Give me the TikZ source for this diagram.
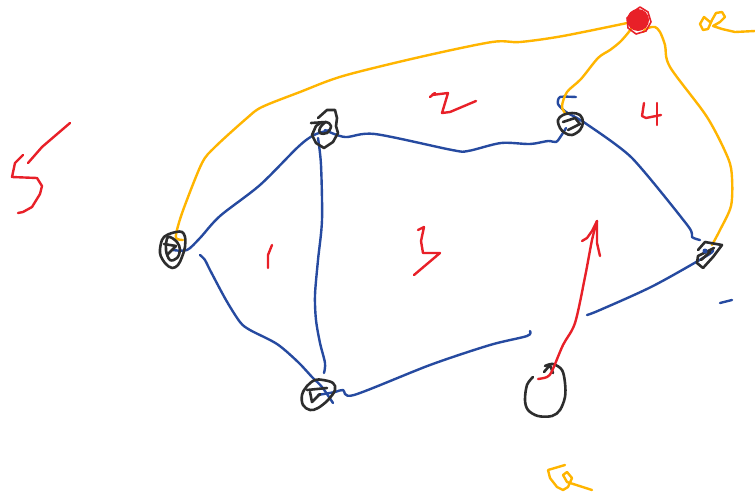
\documentclass[tikz,border=0pt]{standalone}
\definecolor{pb}{RGB}{38,74,160}
\definecolor{po}{RGB}{255,181,0}
\definecolor{pr}{RGB}{232,32,40}
\definecolor{pk}{RGB}{45,45,45}
\tikzset{
  pen/.style={line width=2.4pt, line cap=round, line join=round},
  bl/.style={pen, draw=pb},
  og/.style={pen, draw=po},
  rd/.style={pen, draw=pr},
  bk/.style={pen, draw=pk, line width=2.6pt},
  spot/.style={inner sep=0pt, minimum size=2pt},
}
\begin{document}
\begin{tikzpicture}[x=1pt,y=-1pt]
\useasboundingbox (0,0) rectangle (755,496);
\fill[white] (0,0) rectangle (755,496);
% named node positions
\node[spot] (A) at (173,250) {};
\node[spot] (B) at (325,130) {};
\node[spot] (C) at (570,124) {};
\node[spot] (D) at (708,255) {};
\node[spot] (E) at (318,395) {};
\node[spot] (F) at (545,390) {};
\node[spot] (G) at (638,20) {};
\coordinate (Ftop) at (538,379);
\coordinate (Tip) at (597,221);

% ---------- blue edges ----------
\draw[bl] plot[smooth,tension=0.5] coordinates {(A) (187,250) (200,238) (220,216) (260,185) (298,147) (314,135) (330,130)};
\draw[bl] plot[smooth,tension=0.5] coordinates {(B) (345,137) (375,134) (452,150) (468,151) (501,143) (530,144) (548,141) (556,142) (561,136) (566,128)};
\draw[bl] plot[smooth,tension=0.4] coordinates {(576,97) (560,97) (558,104) (566,112) (585,123) (632,158) (688,226) (692,237) (700,240)};
\draw[bl] plot[smooth,tension=0.5] coordinates {(318,138) (321,165) (322,220) (318,260) (315,295) (316,320) (320,343) (325,363) (324,373)};
\draw[bl] plot[smooth,tension=0.5] coordinates {(200,255) (205,260) (210,270) (226,300) (240,322) (250,330) (277,344) (298,362) (312,377) (322,387) (333,403)};
\draw[bl] plot[smooth,tension=0.5] coordinates {(E) (335,392) (343,390) (354,395) (430,365) (490,345) (527,336) (530,331)};
\draw[bl] plot[smooth,tension=0.5] coordinates {(712,250) (D) (653,286) (600,310) (587,315)};
\draw[bl] (720,303) -- (732,300);

% ---------- orange edges ----------
\draw[og] plot[smooth,tension=0.5] coordinates {(183,240) (176,238) (178,226) (185,205) (202,163) (215,147) (247,118) (262,107) (300,92) (343,76) (420,57) (492,42) (520,42) (563,36) (632,22)};
\draw[og] plot[smooth,tension=0.5] coordinates {(565,113) (562,106) (567,92) (581,79) (598,58) (610,50) (620,42) (628,33) (634,25)};
\draw[og] plot[smooth,tension=0.5] coordinates {(643,32) (648,28) (655,27) (660,32) (665,45) (670,67) (707,117) (728,158) (732,178) (731,206) (720,230) (712,245)};

% ---------- nodes (scribbles) ----------
% A
\draw[bk] plot[smooth cycle,tension=0.6] coordinates {(167,235) (162,240) (160,253) (165,263) (172,268) (178,265) (182,257) (185,247) (185,237) (182,232) (176,232)};
\draw[bk] plot[smooth cycle,tension=0.6] coordinates {(168,237) (166,250) (170,260) (177,258) (180,250) (177,242)};
\draw[bk] (164,244) -- (176,246) -- (167,255);
% B
\draw[bk] (318,118) -- (327,110) -- (335,110) -- (337,118) -- (336,126) -- (338,133) -- (333,142) -- (324,148) -- (316,143) -- (312,135) -- (316,126) -- (322,122);
\draw[bk] (311,123) -- (326,122);
\draw[bk] plot[smooth cycle,tension=0.6] coordinates {(320,128) (326,122) (331,126) (327,133) (320,133)};
% C
\draw[bk] plot[smooth cycle,tension=0.6] coordinates {(558,120) (563,115) (572,113) (580,115) (583,122) (580,130) (572,135) (565,133) (560,128)};
\draw[bk] (563,122) -- (575,118) -- (580,124) -- (568,130);
% D
\draw[bk] (698,250) -- (705,242) -- (722,245) -- (713,257) -- (703,268) -- (697,263) -- (698,256) -- (714,248);
\draw[bk] (701,260) -- (710,252);
\fill[pb] (705,251) circle (2.5);
% E
\draw[bk] plot[smooth cycle,tension=0.6] coordinates {(307,386) (315,380) (323,380) (333,383) (335,390) (328,400) (318,408) (310,410) (303,405) (302,395)};
\draw[bk] (307,390) -- (327,388);
\draw[bk] (310,392) -- (312,402) -- (320,394);
% F
\draw[bk] plot[smooth,tension=0.55] coordinates {(545,366) (553,364) (562,370) (565,383) (565,397) (560,410) (552,416) (538,416) (528,410) (525,400) (527,385) (533,377)};
\draw[bk] (544,372) -- (550,365) -- (553,373);
% G (red blob)
\fill[pr] (G) circle (11);
\draw[rd, line width=1.6pt] (630,14) -- (640,7) -- (648,12) -- (651,22) -- (646,31) -- (636,34) -- (628,28) -- (627,18) -- (635,11) -- (645,15) -- (646,26);

% ---------- red arrow ----------
\draw[rd] plot[smooth,tension=0.5] coordinates {(Ftop) (547,377) (552,371) (563,345) (575,323) (585,277) (592,240) (Tip)};
\draw[rd] (582,241) -- (587,238) -- (592,231) -- (Tip) -- (597,243) -- (600,256);

% ---------- handwritten marks ----------
% 5
\draw[rd] (70,123) -- (42,147) -- (28,163);
\draw[rd] (23,155) -- (15,163) -- (12,177) -- (37,178) -- (42,186) -- (40,194) -- (32,207) -- (23,212) -- (18,213);
% 2
\draw[rd] (430,97) -- (435,93) -- (432,95) -- (448,93) -- (442,113) -- (450,112) -- (476,101);
% 3
\draw[rd] (418,230) -- (424,227) -- (421,241) -- (423,253) -- (440,253) -- (414,275);
% 1
\draw[rd] (272,245) -- (268,255) -- (268,268);
% 4
\draw[rd] (644,103) -- (642,116) -- (646,118) -- (661,115);
\draw[rd] (657,103) -- (657,125);
% R (orange)
\draw[og] (710,22) -- (704,17) -- (700,24) -- (703,30) -- (708,29) -- (712,20) -- (716,13) -- (722,12) -- (725,17) -- (720,22) -- (713,26) -- (722,29) -- (735,32) -- (755,31);
% Q-like (orange)
\draw[og] (565,465) -- (548,470) -- (550,478) -- (557,487) -- (563,490) -- (568,487) -- (572,478) -- (567,472) -- (563,475) -- (567,482) -- (592,490);
\end{tikzpicture}
\end{document}
